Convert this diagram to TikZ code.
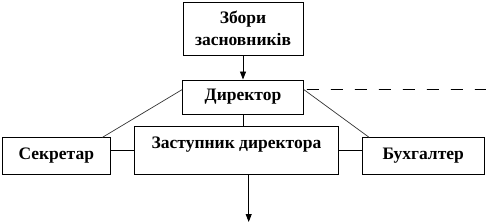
\documentclass[tikz,border=0pt]{standalone}
\usepackage{fontspec}
\setmainfont{Liberation Serif}
\usetikzlibrary{
  arrows.meta,
  positioning
}
\tikzset{
  orgBox/.style={
    rectangle,
    draw=black,
    line width=0.9pt,
    inner sep=0pt,
    align=center,
    font=\bfseries\fontsize{17.5}{22.5}\selectfont
  },
  orgArrow/.style={
    -{Triangle[length=8pt,width=6pt]},
    line width=0.9pt
  },
  orgLink/.style={
    line width=0.9pt
  },
  orgDiag/.style={
    line width=0.7pt,
    draw=black!80
  },
  orgDashed/.style={
    line width=0.9pt,
    dash pattern=on 12pt off 12pt,
    dash phase=-3pt
  }
}

\begin{document}
\begin{tikzpicture}[x=1pt,y=-1pt]
  \useasboundingbox (0,0) rectangle (486,224);

  \node[orgBox, minimum width=120pt, minimum height=53pt]
    (zbory) at (243,28.5) {Збори\\засновників};

  \node[orgBox, minimum width=120.6pt, minimum height=34pt]
    (dyrektor) at (243,97) {Директор};

  \node[orgBox, minimum width=107.3pt, minimum height=36.3pt]
    (sekretar) at (56.3,156) {Секретар};

  \node[orgBox, minimum width=203.6pt, text height=22pt, text depth=25.7pt]
    (zastupnyk) at (236.5,150.2) {Заступник директора};

  \node[orgBox, minimum width=121.7pt, minimum height=36.3pt]
    (bukhhalter) at (423.2,156) {Бухгалтер};

  \coordinate (dashEnd) at (486,89.5);
  \coordinate (downEnd) at (248.7,222);

  \draw[orgArrow] (zbory) -- (dyrektor);
  \draw[orgDashed] (dyrektor.7) -- (dashEnd);
  \draw[orgDiag] (dyrektor.173) -- (sekretar.22);
  \draw[orgDiag] (dyrektor.7) -- (bukhhalter.161);
  \draw[orgLink] (dyrektor.south) -- (dyrektor.south |- zastupnyk.north);
  \draw[orgLink] (zastupnyk.west) -- (zastupnyk.west -| sekretar.east);
  \draw[orgLink] (zastupnyk.east) -- (zastupnyk.east -| bukhhalter.west);
  \draw[orgArrow] (downEnd |- zastupnyk.south) -- (downEnd);
\end{tikzpicture}
\end{document}
